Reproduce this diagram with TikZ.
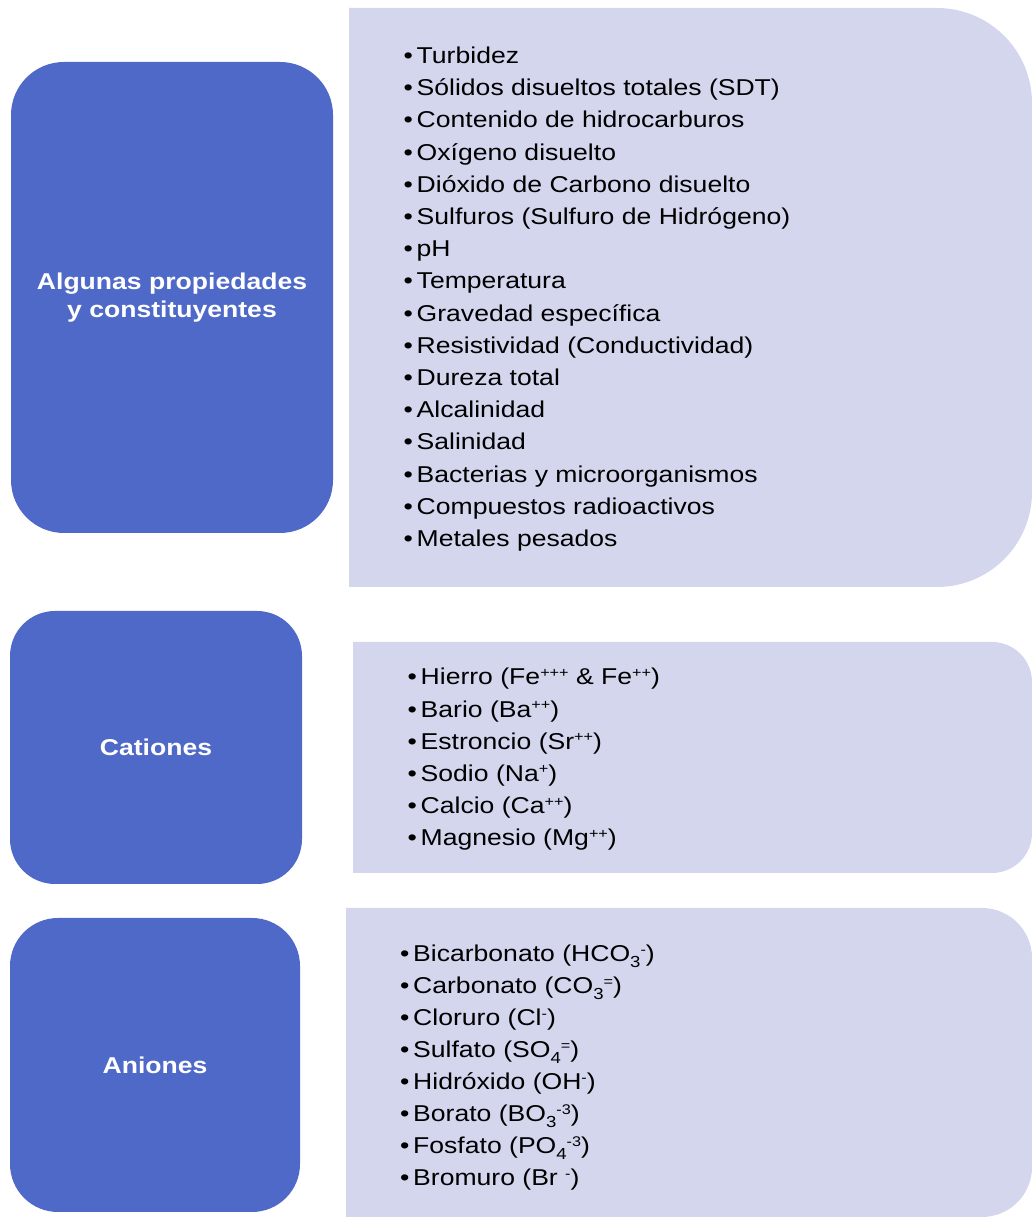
\documentclass[tikz,border=0pt]{standalone}
\usepackage{fontspec}
\setmainfont{Liberation Sans}[FakeStretch=1.16]
\definecolor{darkblue}{HTML}{4F69C8}
\definecolor{paleblue}{HTML}{D4D6EE}
\newcommand{\ionsup}[1]{\raisebox{0.34em}{\fontsize{14}{14}\selectfont #1}}
\newcommand{\ionsub}[1]{\raisebox{-0.24em}{\fontsize{16}{16}\selectfont #1}}
\tikzset{
  darkbox/.style={fill=darkblue, text=white, align=center, inner sep=0pt,
    font=\fontsize{22.9}{28}\selectfont\bfseries},
  listitem/.style={anchor=base west, inner sep=0pt, text=black,
    font=\fontsize{22.9}{28}\selectfont}
}
\begin{document}
\begin{tikzpicture}[x=1pt,y=1pt]
  \useasboundingbox (0,0) rectangle (1032,1218);
  % light panels, rounded on the right side only
  \fill[paleblue] (349,1210) -- (937,1210) arc[start angle=90, end angle=0, radius=95]
    -- (1032,726) arc[start angle=0, end angle=-90, radius=95] -- (349,631) -- cycle;
  \fill[paleblue] (353,576) -- (992,576) arc[start angle=90, end angle=0, radius=40]
    -- (1032,385) arc[start angle=0, end angle=-90, radius=40] -- (353,345) -- cycle;
  \fill[paleblue] (346,310) -- (982,310) arc[start angle=90, end angle=0, radius=50]
    -- (1032,51) arc[start angle=0, end angle=-90, radius=50] -- (346,1) -- cycle;
  % category boxes
  \node[darkbox, rounded corners=53pt, minimum width=322pt, minimum height=471pt]
    (props) at (172,920.5) {Algunas propiedades\\y constituyentes};
  \node[darkbox, rounded corners=45pt, minimum width=292pt, minimum height=273pt]
    (cationes) at (156,470.5) {Cationes};
  \node[darkbox, rounded corners=48pt, minimum width=290pt, minimum height=294pt]
    (aniones) at (155,153) {Aniones};
  % properties list
  \foreach \txt [count=\i from 0] in {Turbidez, Sólidos disueltos totales (SDT),
      Contenido de hidrocarburos, Oxígeno disuelto, Dióxido de Carbono disuelto,
      Sulfuros (Sulfuro de Hidrógeno), pH, Temperatura, Gravedad específica,
      Resistividad (Conductividad), Dureza total, Alcalinidad, Salinidad,
      Bacterias y microorganismos, Compuestos radioactivos, Metales pesados}
    {\node[listitem] (p\i) at (403.5,{1154.5-32.2*\i}) {\makebox[13pt][l]{•}\txt};}
  % cations list
  \foreach \txt [count=\i from 0] in {Hierro (Fe\ionsup{+++} \& Fe\ionsup{++}),
      Bario (Ba\ionsup{++}), Estroncio (Sr\ionsup{++}), Sodio (Na\ionsup{+}),
      Calcio (Ca\ionsup{++}), Magnesio (Mg\ionsup{++})}
    {\node[listitem] (c\i) at (407.5,{533-32.2*\i}) {\makebox[13pt][l]{•}\txt};}
  % anions list
  \foreach \txt [count=\i from 0] in {Bicarbonato (HCO\ionsub{3}\ionsup{-}),
      Carbonato (CO\ionsub{3}\ionsup{=}), Cloruro (Cl\ionsup{-}),
      Sulfato (SO\ionsub{4}\ionsup{=}), Hidróxido (OH\ionsup{-}),
      Borato (BO\ionsub{3}\ionsup{-3}), Fosfato (PO\ionsub{4}\ionsup{-3}),
      Bromuro (Br \ionsup{-})}
    {\node[listitem] (a\i) at (400,{256-32*\i}) {\makebox[13pt][l]{•}\txt};}
\end{tikzpicture}
\end{document}
